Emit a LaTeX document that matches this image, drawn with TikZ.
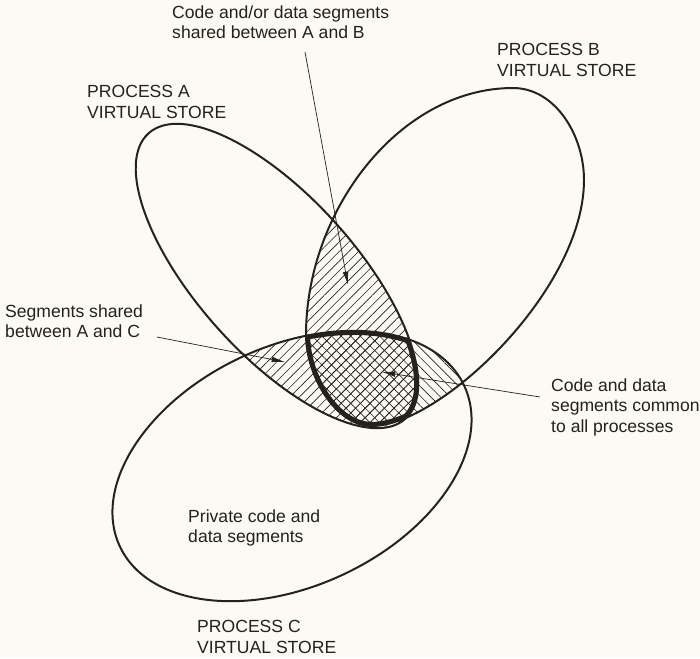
\documentclass[tikz,border=0pt]{standalone}
\usepackage{fontspec}
\setmainfont{Liberation Sans}
\usetikzlibrary{arrows.meta,patterns.meta}
\definecolor{ink}{RGB}{38,32,30}
\definecolor{paper}{RGB}{251,250,245}
\newcommand{\storeA}{[rotate around={-48:(277,276)}] (277,276) ellipse [x radius=192, y radius=79]}
\newcommand{\storeB}{(513,88) .. controls (555,88) and (584,135) .. (584,180)
  .. controls (584,290) and (440,426) .. (372,426)
  .. controls (335,426) and (306,375) .. (306,335)
  .. controls (306,210) and (400,88) .. cycle}
\newcommand{\storeC}{[rotate around={25:(292,466)}] (292,466) ellipse [x radius=190, y radius=120]}

\begin{document}
\begin{tikzpicture}[
  x=0.03cm, y=-0.03cm,
  outline/.style={draw=ink, line width=1.7pt},
  common/.style={draw=ink, line width=7pt},
  hatch/.style={
    pattern={Lines[angle=45, distance=5.8pt, line width=0.55pt]},
    pattern color=ink
  },
  backhatch/.style={
    pattern={Lines[angle=-45, distance=5.8pt, line width=0.55pt]},
    pattern color=ink
  },
  lbl/.style={
    font=\fontsize{15}{17.5}\selectfont,
    align=left,
    anchor=west,
    inner sep=0pt,
    text=ink
  },
  arr/.style={
    -{Latex[length=4mm, width=1.7mm]},
    ink,
    line width=0.6pt
  }
]

\fill[paper] (0,0) rectangle (700,658);
\useasboundingbox (0,0) rectangle (700,658);

% shared segments
\begin{scope}
  \clip\storeA;
  \fill[hatch]\storeB;
  \fill[hatch]\storeC;
\end{scope}
\begin{scope}
  \clip\storeB;
  \fill[backhatch]\storeC;
\end{scope}

% common to all processes
\begin{scope}
  \clip\storeA;
  \clip\storeB;
  \clip\storeC;
  \draw[common]\storeA;
  \draw[common]\storeB;
  \draw[common]\storeC;
\end{scope}

\draw[outline]\storeA;
\draw[outline]\storeB;
\draw[outline]\storeC;

\node[lbl] (abLbl) at (172,22) {Code and/or data segments\\shared between A and B};
\node[lbl] (procA) at (87,102) {PROCESS A\\VIRTUAL STORE};
\node[lbl] (procB) at (497,60) {PROCESS B\\VIRTUAL STORE};
\node[lbl] (acLbl) at (5,321) {Segments shared\\between A and C};
\node[lbl] (allLbl) at (551,407) {Code and data\\segments common\\to all processes};
\node[lbl] (privLbl) at (188,528) {Private code and\\data segments};
\node[lbl] (procC) at (197,637) {PROCESS C\\VIRTUAL STORE};

\coordinate (abFrom) at (305,52);
\coordinate (abTip) at (348,285);
\coordinate (acFrom) at (157,337);
\coordinate (acTip) at (285,362);
\coordinate (allFrom) at (540,397);
\coordinate (allTip) at (382,372);

\draw[arr] (abFrom) -- (abTip);
\draw[arr] (acFrom) -- (acTip);
\draw[arr] (allFrom) -- (allTip);

\end{tikzpicture}
\end{document}
